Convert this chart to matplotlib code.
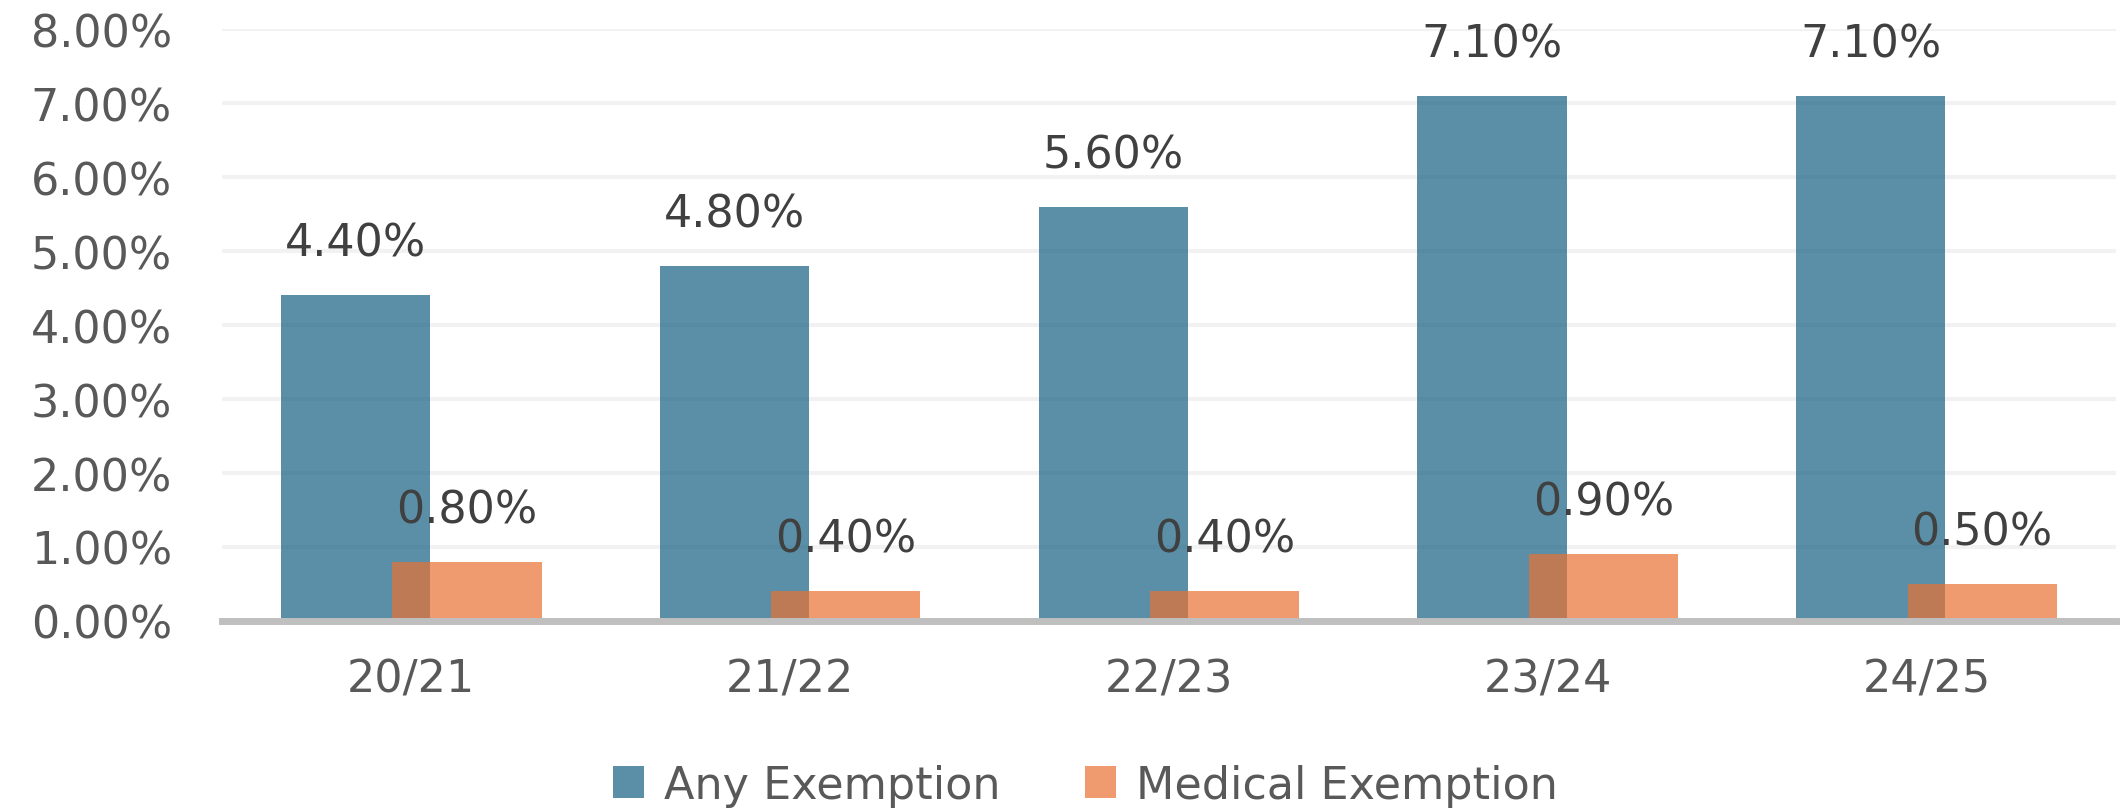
import matplotlib
matplotlib.use("Agg")
import matplotlib.pyplot as plt
import numpy as np
from matplotlib.patches import Patch

categories = ["20/21", "21/22", "22/23", "23/24", "24/25"]
any_exemption = [4.4, 4.8, 5.6, 7.1, 7.1]
medical_exemption = [0.8, 0.4, 0.4, 0.9, 0.5]
series_names = ["Any Exemption", "Medical Exemption"]
yticks = [0, 1, 2, 3, 4, 5, 6, 7, 8]

blue = "#156082"
orange = "#E97132"
alpha = 0.7
fs = 32

fig = plt.figure(figsize=(21.24, 8.12), dpi=100)
ax = fig.add_axes([0.1045, 0.234, 0.8917, 0.729])

x = np.arange(len(categories))
w = 0.394
off = 0.294
b1 = ax.bar(x - off / 2, any_exemption, width=w, color=blue, alpha=alpha, zorder=2)
b2 = ax.bar(x + off / 2, medical_exemption, width=w, color=orange, alpha=alpha, zorder=3)

for bars, vals in ((b1, any_exemption), (b2, medical_exemption)):
    for rect, v in zip(bars, vals):
        ax.annotate(f"{v:.2f}%", (rect.get_x() + rect.get_width() / 2, v),
                    xytext=(0, 52), textcoords="offset pixels",
                    ha="center", va="center", fontsize=fs, color="#404040", zorder=5)

ax.set_xlim(-0.5, len(categories) - 0.5)
ax.set_ylim(0, 8)
ax.set_yticks(yticks)
ax.set_yticklabels([f"{v:.2f}%" for v in yticks])
ax.set_xticks(x)
ax.set_xticklabels(categories)
ax.tick_params(axis="y", length=0, pad=36, labelsize=fs, labelcolor="#595959")
ax.tick_params(axis="x", length=0, pad=26, labelsize=fs, labelcolor="#595959")

ax.set_axisbelow(True)
ax.yaxis.grid(True, color="#F2F2F2", linewidth=2.9)
for s in ("left", "right", "top"):
    ax.spines[s].set_visible(False)
ax.spines["bottom"].set_color("#BFBFBF")
ax.spines["bottom"].set_linewidth(5)
ax.spines["bottom"].set_zorder(4)

handles = [Patch(facecolor=blue, alpha=alpha), Patch(facecolor=orange, alpha=alpha)]
fig.legend(handles, series_names, loc="center", bbox_to_anchor=(0.511, 0.032),
           ncol=2, frameon=False, fontsize=fs, labelcolor="#595959",
           handlelength=0.7, handleheight=0.7, handletextpad=0.45, columnspacing=1.9)

fig.savefig("out.png", dpi=100)
